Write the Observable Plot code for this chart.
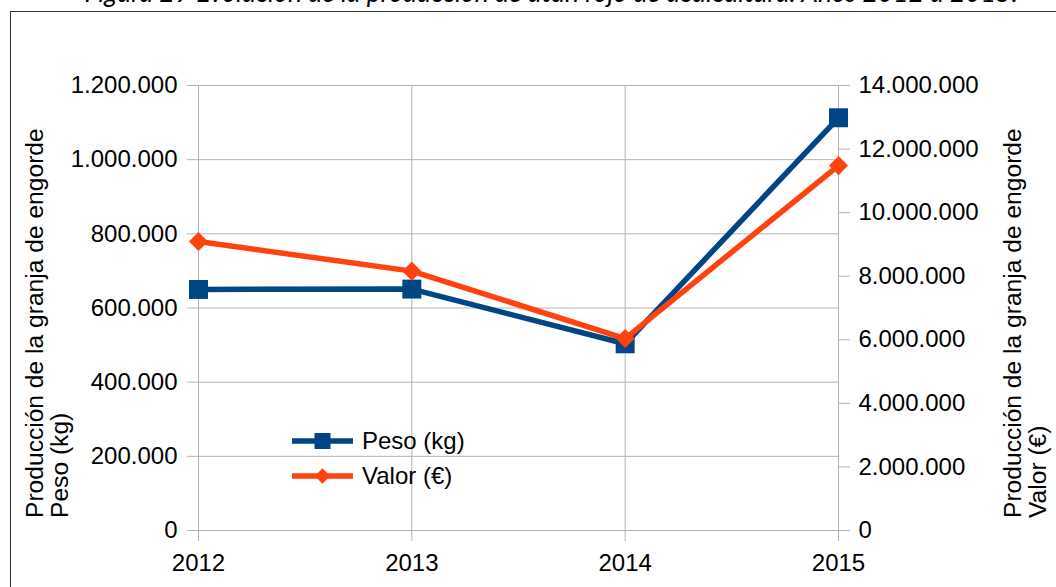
<!DOCTYPE html>
<html><head><meta charset="utf-8">
<script src="https://cdn.jsdelivr.net/npm/d3@7"></script>
<script src="https://cdn.jsdelivr.net/npm/@observablehq/plot@0.6"></script>
<style>
html,body{margin:0;padding:0;background:#fff;overflow:hidden;}
#wrap{position:relative;width:1056px;height:587px;overflow:hidden;background:#fff;}
#title{position:absolute;left:0;width:1102px;top:-24px;text-align:center;font:italic 26.5px Lato, sans-serif;color:#000;white-space:nowrap;}
#frame{position:absolute;left:10px;top:11px;width:2000px;height:2000px;border-left:1px solid #333;border-top:1px solid #333;}
#chart{position:absolute;left:0;top:0;}
</style></head><body>
<div id="wrap">
<div id="frame"></div>
<div id="title">Figura 29 Evolución de la producción de atún rojo de acuicultura. Años 2012 a 2015.</div>
<div id="chart"></div>
</div>
<script>
const years = [2012, 2013, 2014, 2015];
const pesoKg = [650000, 651000, 503500, 1113000];
const valorEur = [9090000, 8160000, 6040000, 11480000];
const leftTicks = [0, 200000, 400000, 600000, 800000, 1000000, 1200000];
const rightTicks = [0, 2000000, 4000000, 6000000, 8000000, 10000000, 12000000, 14000000];
const seriesNames = ["Peso (kg)", "Valor (€)"];
const seriesColors = ["#004586", "#ff420e"];
const leftTitle = ["Producción de la granja de engorde", "Peso (kg)"];
const rightTitle = ["Producción de la granja de engorde", "Valor (€)"];

const leftMax = 1200000, rightMax = 14000000;
const k = leftMax / rightMax;
const fmt = d3.formatLocale({decimal: ",", thousands: ".", grouping: [3], currency: ["", "€"]}).format(",d");
const data = years.map((y, i) => ({year: y, peso: pesoKg[i], valor: valorEur[i] * k}));
const grid = "#b3b3b3";

const plot = Plot.plot({
  width: 1056, height: 587,
  marginLeft: 198, marginRight: 218, marginTop: 85, marginBottom: 57,
  style: {fontFamily: "'Liberation Sans', Arial, sans-serif", fontSize: "24px", color: "#000", background: "transparent", overflow: "visible"},
  x: {domain: [2012, 2015], axis: null},
  y: {domain: [0, leftMax], axis: null},
  marks: [
    Plot.gridY(leftTicks, {stroke: grid, strokeOpacity: 1}),
    Plot.gridX(years, {stroke: grid, strokeOpacity: 1}),
    Plot.axisY(leftTicks, {anchor: "left", tickSize: 11, tickPadding: 10, stroke: grid, fill: "#000", tickFormat: fmt, label: null}),
    Plot.axisY(rightTicks.map(v => v * k), {anchor: "right", tickSize: 11, tickPadding: 9, stroke: grid, fill: "#000", tickFormat: d => fmt(Math.round(d / k)), label: null}),
    Plot.axisX(years, {anchor: "bottom", tickSize: 11, tickPadding: 12, stroke: grid, fill: "#000", tickFormat: d => String(d), label: null}),
    Plot.line(data, {x: "year", y: "peso", stroke: seriesColors[0], strokeWidth: 5.5, strokeLinejoin: "miter"}),
    Plot.dot(data, {x: "year", y: "peso", symbol: "square", r: 10.7, fill: seriesColors[0], stroke: "none"}),
    Plot.line(data, {x: "year", y: "valor", stroke: seriesColors[1], strokeWidth: 5.5, strokeLinejoin: "miter"}),
    Plot.dot(data, {x: "year", y: "valor", symbol: "diamond2", r: 8.6, fill: seriesColors[1], stroke: "none"})
  ]
});
document.getElementById("chart").appendChild(plot);

const svg = d3.select(plot);
// axis titles
function vtitle(lines, x0, y0) {
  lines.forEach((t, i) => {
    svg.append("text")
      .attr("transform", `translate(${x0 + i * 25},${y0}) rotate(-90)`)
      .attr("text-anchor", "start")
      .attr("font-size", "24.6px")
      .attr("fill", "#000")
      .text(t);
  });
}
vtitle(leftTitle, 43, 518);
vtitle(rightTitle, 1021, 518);

// legend
const lg = svg.append("g");
seriesNames.forEach((name, i) => {
  const yy = 441 + i * 35;
  lg.append("line").attr("x1", 292).attr("x2", 353).attr("y1", yy).attr("y2", yy)
    .attr("stroke", seriesColors[i]).attr("stroke-width", 5.5);
  const sym = i === 0 ? d3.symbol(d3.symbolSquare, 256) : d3.symbol(d3.symbolDiamond2, 150);
  lg.append("path").attr("d", sym()).attr("transform", `translate(322.5,${yy})`).attr("fill", seriesColors[i]);
  lg.append("text").attr("x", 362).attr("y", yy).attr("dy", "0.35em")
    .attr("text-anchor", "start").attr("fill", "#000").text(name);
});
</script>
</body></html>
